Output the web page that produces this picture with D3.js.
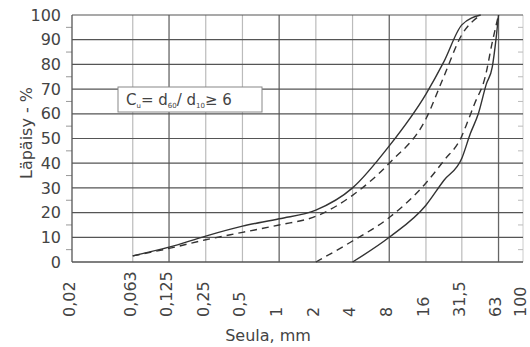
<!DOCTYPE html>
<html>
<head>
<meta charset="utf-8">
<script src="https://cdn.jsdelivr.net/npm/d3@7"></script>
<style>
  body { margin: 0; background: #fff; }
  svg { font-family: "DejaVu Sans", Verdana, sans-serif; }
</style>
</head>
<body>
<svg width="530" height="347"></svg>
<script>
// sieve sizes on the x axis (mm) and their labels
var sieveTicks = [0.02, 0.063, 0.125, 0.25, 0.5, 1, 2, 4, 8, 16, 31.5, 63, 100]
var sieveLabels = ['0,02', '0,063', '0,125', '0,25', '0,5', '1', '2', '4', '8', '16', '31,5', '63', '100']
var darkSieves = [0.125, 1, 8, 63]
var passTicks = [0, 10, 20, 30, 40, 50, 60, 70, 80, 90, 100]
var minorTicks = [5, 15, 25, 35, 45, 55, 65, 75, 85, 95]

// grading envelope curves: size (mm) / passing (%)
var fineSolidSize = [0.063, 0.125, 0.25, 0.5, 1, 2, 4, 8, 16, 22.4, 31.5, 45]
var fineSolidPass = [2.5, 6, 10.5, 14.5, 17.5, 21, 30, 47, 68, 81, 96, 100]
var fineDashSize = [0.063, 0.125, 0.25, 0.5, 1, 2, 4, 8, 16, 22.4, 31.5, 45]
var fineDashPass = [2.5, 5.5, 9, 12, 15, 18.5, 27, 40, 58, 75, 92, 100]
var coarseSolidSize = [4, 8, 16, 22.4, 31.5, 37, 43, 50, 56, 60, 63]
var coarseSolidPass = [0, 10, 23, 33, 42, 52, 60, 72, 79, 90, 100]
var coarseDashSize = [2, 4, 8, 16, 22.4, 31.5, 34, 40, 49, 56, 63]
var coarseDashPass = [0, 8.5, 18, 32, 41, 51, 55, 64, 75, 89, 100]

var svg = d3.select('svg')
var x = d3.scaleLog().base(2).domain([0.02, 100]).range([72, 523])
var y = d3.scaleLinear().domain([0, 100]).range([262, 15])
var txt = '#444'

// vertical grid
svg.append('g').selectAll('line')
  .data(sieveTicks.slice(1, -1))
  .enter().append('line')
    .attr('x1', (d) => x(d)).attr('x2', (d) => x(d))
    .attr('y1', y(0)).attr('y2', y(100))
    .attr('stroke', (d) => darkSieves.indexOf(d) >= 0 ? '#666' : '#bbb')
    .attr('stroke-width', (d) => darkSieves.indexOf(d) >= 0 ? 1.3 : 1.2)

// right frame
svg.append('line')
  .attr('x1', x(100)).attr('x2', x(100)).attr('y1', y(0)).attr('y2', y(100))
  .attr('stroke', '#ccc')

// horizontal grid
svg.append('g').selectAll('line')
  .data(passTicks.slice(1))
  .enter().append('line')
    .attr('x1', x(0.02)).attr('x2', x(100))
    .attr('y1', (d) => y(d)).attr('y2', (d) => y(d))
    .attr('stroke', '#555').attr('stroke-width', 1.2)

// minor ticks
svg.append('g').selectAll('line')
  .data(minorTicks)
  .enter().append('line')
    .attr('x1', x(0.02) - 6).attr('x2', x(0.02))
    .attr('y1', (d) => y(d)).attr('y2', (d) => y(d))
    .attr('stroke', '#999')
svg.append('g').selectAll('line')
  .data(minorTicks)
  .enter().append('line')
    .attr('x1', x(100) - 5).attr('x2', x(100))
    .attr('y1', (d) => y(d)).attr('y2', (d) => y(d))
    .attr('stroke', '#bbb')

// axes lines
svg.append('line')
  .attr('x1', x(0.02)).attr('x2', x(0.02)).attr('y1', y(0)).attr('y2', y(100))
  .attr('stroke', '#555').attr('stroke-width', 1.3)
svg.append('line')
  .attr('x1', x(0.02)).attr('x2', x(100)).attr('y1', y(0)).attr('y2', y(0))
  .attr('stroke', '#555').attr('stroke-width', 1.5)

// y tick labels
svg.append('g').selectAll('text')
  .data(passTicks)
  .enter().append('text')
    .attr('x', 61).attr('y', (d) => y(d))
    .attr('dy', '0.35em')
    .attr('text-anchor', 'end')
    .attr('font-size', 16).attr('fill', txt)
    .text((d) => d)

// x tick labels (rotated)
svg.append('g').selectAll('text')
  .data(sieveTicks)
  .enter().append('text')
    .attr('transform', (d) => 'translate(' + x(d) + ',317) rotate(-90)')
    .attr('dy', '0.18em')
    .attr('text-anchor', 'start')
    .attr('font-size', 16).attr('fill', txt)
    .text((d, i) => sieveLabels[i])

// axis titles
svg.append('text')
  .attr('transform', 'translate(32,133) rotate(-90)')
  .attr('text-anchor', 'middle')
  .attr('font-size', 16).attr('fill', txt)
  .text('Läpäisy - %')
svg.append('text')
  .attr('x', 268).attr('y', 341)
  .attr('text-anchor', 'middle')
  .attr('font-size', 16).attr('fill', txt)
  .text('Seula, mm')

// curves
var line = d3.line()
  .x((d) => x(d[0]))
  .y((d) => y(d[1]))
  .curve(d3.curveMonotoneX)

var curves = [
  { size: fineSolidSize, pass: fineSolidPass, dash: null },
  { size: fineDashSize, pass: fineDashPass, dash: '7,5' },
  { size: coarseSolidSize, pass: coarseSolidPass, dash: null },
  { size: coarseDashSize, pass: coarseDashPass, dash: '7,5' }
]

svg.append('g').selectAll('path')
  .data(curves)
  .enter().append('path')
    .attr('d', (c) => line(c.size.map((s, i) => [s, c.pass[i]])))
    .attr('fill', 'none')
    .attr('stroke', '#333')
    .attr('stroke-width', 1.4)
    .attr('stroke-dasharray', (c) => c.dash)

// annotation box
var box = svg.append('g')
box.append('rect')
  .attr('x', 118).attr('y', 87).attr('width', 144).attr('height', 25)
  .attr('fill', '#fff').attr('stroke', '#888')
var t = box.append('text')
  .attr('x', 126).attr('y', 105)
  .attr('font-size', 15).attr('fill', txt)
t.append('tspan').text('C')
t.append('tspan').attr('font-size', 7).attr('dy', 3).text('u')
t.append('tspan').attr('dy', -3).text('= d')
t.append('tspan').attr('font-size', 7).attr('dy', 3).text('60')
t.append('tspan').attr('dy', -3).text('/ d')
t.append('tspan').attr('font-size', 7).attr('dy', 3).text('10')
t.append('tspan').attr('dy', -3).text('≥ 6')
</script>
</body>
</html>
